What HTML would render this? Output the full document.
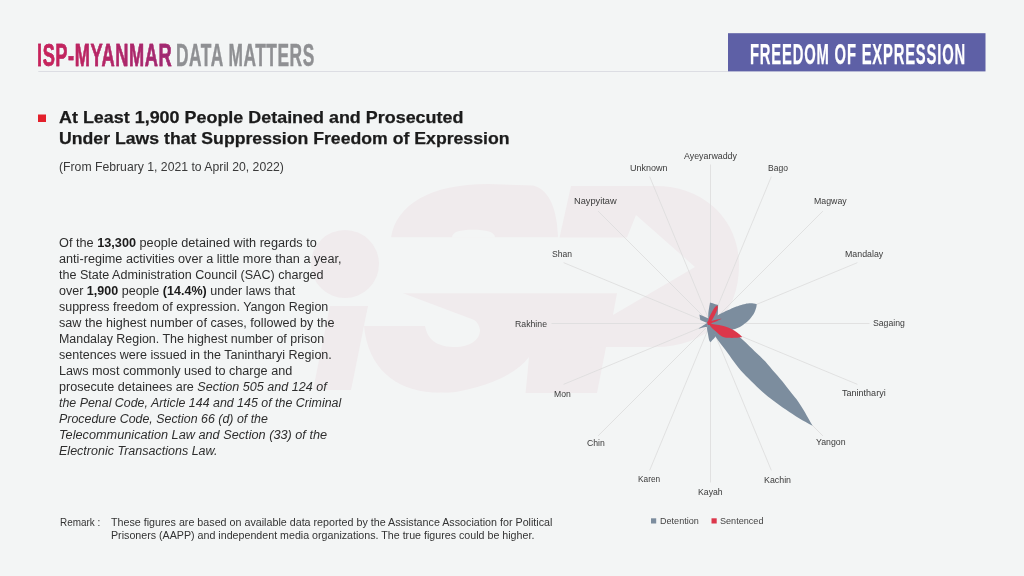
<!DOCTYPE html>
<html><head><meta charset="utf-8"><style>
html,body{margin:0;padding:0;}
body{width:1024px;height:576px;overflow:hidden;background:#f3f5f5;position:relative;font-family:"Liberation Sans",sans-serif;}
.t{position:absolute;white-space:nowrap;line-height:1;transform-origin:0 0;}
.t b{font-weight:bold;color:#1b1b1b;}
svg{position:absolute;left:0;top:0;}
</style></head><body>
<svg width="1024" height="576" viewBox="0 0 1024 576">
<g id="wm" fill="#f0ebed"><circle cx="345" cy="264" r="34"/>
<path d="M330,306 L368,306 L351,390 L313,390Z"/>
<path d="M391,237.5 C396,205 430,184 488,184 L533,185.5 C551,190 557,212 558,237.5Z"/>
<path d="M571,186 L656,186 C702,186 739,218 739,265 C739,315 706,347 655,347 L606,347 L597,393 L525,393Z"/>
<path d="M402.5,293 L617,293 L606,347 L545,350 L525.5,393 L433,392.5 C395,390 368,368 364,326 L425,326 C428,342 440,347 455,347 C470,347 480,340 480,330 C479,324 476,321 473,319.6Z"/>
<g fill="#f3f5f5"><path d="M452,237.5 C452,232 460,229.8 473,229.8 C486,229.8 495,232 495,237.5Z"/>
<path d="M388,237.5 L627,237.5 L636,215 L695,267 L613,315 L617,293.2 L388,293.2Z"/>
<path d="M440,394 C470,391 512,380 529,357 L525.5,394Z"/></g></g>
<line x1="38.3" y1="71.5" x2="728" y2="71.5" stroke="#dcdde3" stroke-width="1"/>
<rect x="728" y="33.2" width="257.5" height="38.2" fill="#5e60a6"/>
<rect x="38" y="114.5" width="8" height="7.5" fill="#e3202b"/>
<g stroke="#dcdcdc" stroke-width="0.8"><line x1="710.50" y1="323.50" x2="710.50" y2="164.50"/><line x1="710.50" y1="323.50" x2="771.35" y2="176.60"/><line x1="710.50" y1="323.50" x2="822.93" y2="211.07"/><line x1="710.50" y1="323.50" x2="857.40" y2="262.65"/><line x1="710.50" y1="323.50" x2="869.50" y2="323.50"/><line x1="710.50" y1="323.50" x2="857.40" y2="384.35"/><line x1="710.50" y1="323.50" x2="822.93" y2="435.93"/><line x1="710.50" y1="323.50" x2="771.35" y2="470.40"/><line x1="710.50" y1="323.50" x2="710.50" y2="482.50"/><line x1="710.50" y1="323.50" x2="649.65" y2="470.40"/><line x1="710.50" y1="323.50" x2="598.07" y2="435.93"/><line x1="710.50" y1="323.50" x2="563.60" y2="384.35"/><line x1="710.50" y1="323.50" x2="551.50" y2="323.50"/><line x1="710.50" y1="323.50" x2="563.60" y2="262.65"/><line x1="710.50" y1="323.50" x2="598.07" y2="211.07"/><line x1="710.50" y1="323.50" x2="649.65" y2="176.60"/></g>
<g fill="#7c8d9e"><path d="M708.60,323.00 L713.67,323.20 L718.05,324.11 L721.98,325.46 L725.59,327.14 L728.98,329.05 L732.21,331.11 L735.24,333.38 L738.17,335.75 L741.03,338.19 L743.79,340.74 L746.50,343.33 L749.20,345.93 L751.90,348.54 L754.60,351.14 L757.31,353.72 L760.02,356.32 L762.72,358.92 L765.35,361.59 L767.83,364.42 L770.24,367.31 L772.67,370.19 L775.15,373.01 L777.63,375.84 L780.09,378.68 L782.50,381.58 L784.83,384.56 L787.14,387.56 L789.47,390.53 L791.84,393.46 L794.22,396.39 L796.55,399.37 L798.76,402.46 L800.88,405.65 L802.94,408.90 L804.92,412.24 L806.81,415.66 L808.71,419.07 L810.65,422.44 L812.61,425.79 L809.12,423.98 L805.71,422.11 L802.35,420.17 L799.04,418.18 L795.77,416.16 L792.53,414.10 L789.33,412.01 L786.17,409.87 L783.04,407.70 L779.94,405.50 L776.88,403.27 L773.85,401.00 L770.86,398.69 L767.87,396.38 L764.91,394.04 L762.04,391.61 L759.31,389.04 L756.62,386.43 L753.93,383.81 L751.25,381.19 L748.59,378.55 L745.96,375.88 L743.36,373.17 L740.78,370.45 L738.31,367.62 L736.01,364.61 L733.78,361.53 L731.54,358.47 L729.34,355.35 L727.16,352.23 L724.92,349.16 L722.59,346.18 L720.25,343.22 L717.97,340.19 L715.79,337.06 L713.73,333.81 L711.79,330.44 L710.09,326.83Z"/><path d="M708.60,323.00 L709.53,321.73 L710.49,320.53 L711.49,319.44 L712.54,318.48 L713.65,317.68 L714.79,316.95 L715.94,316.27 L717.11,315.62 L718.29,314.99 L719.46,314.35 L720.64,313.72 L721.82,313.10 L723.00,312.48 L724.19,311.89 L725.39,311.30 L726.59,310.74 L727.80,310.21 L729.02,309.67 L730.23,309.14 L731.45,308.62 L732.67,308.10 L733.89,307.59 L735.12,307.10 L736.35,306.61 L737.59,306.14 L738.85,305.71 L740.11,305.31 L741.38,304.93 L742.67,304.57 L743.95,304.23 L745.25,303.90 L746.55,303.59 L747.89,303.38 L749.26,303.27 L750.67,303.24 L752.11,303.28 L753.59,303.43 L755.15,303.79 L756.76,304.30 L756.37,306.96 L755.76,309.07 L755.07,310.96 L754.32,312.70 L753.49,314.22 L752.59,315.56 L751.66,316.84 L750.71,318.06 L749.73,319.20 L748.72,320.26 L747.68,321.24 L746.60,322.13 L745.52,323.00 L744.43,323.86 L743.33,324.69 L742.22,325.49 L741.08,326.22 L739.92,326.88 L738.72,327.45 L737.48,327.93 L736.25,328.41 L735.01,328.89 L733.77,329.36 L732.54,329.84 L731.24,330.15 L729.84,330.22 L728.39,330.12 L726.88,329.90 L725.36,329.64 L723.85,329.40 L722.32,329.11 L720.74,328.71 L719.13,328.21 L717.48,327.62 L715.81,326.96 L714.09,326.19 L712.31,325.25 L710.47,324.18Z"/><path d="M708.60,323.00 C708.55,321.53 708.07,317.60 708.30,314.20 C708.53,310.80 709.72,304.53 710.00,302.60 C711.35,303.02 716.75,304.68 718.10,305.10 C718.03,306.92 718.05,313.18 717.70,316.00 C717.35,318.82 717.52,320.83 716.00,322.00 C714.48,323.17 709.83,322.83 708.60,323.00 Z"/><path d="M708.6,318.4 L699.4,314.5 L700.3,319.9 L706,322.6 L708.6,323.2Z"/><path d="M706.20,323.60 C705.50,324.05 703.28,325.47 702.00,326.30 C700.72,327.13 699.08,328.22 698.50,328.60 C699.25,328.40 701.55,327.67 703.00,327.40 C704.45,327.13 706.50,327.07 707.20,327.00 C707.43,326.33 708.77,323.57 708.60,323.00 C708.43,322.43 706.60,323.50 706.20,323.60 Z"/><path d="M710.00,322.00 C709.52,322.82 707.43,324.90 707.10,326.90 C706.77,328.90 707.65,331.77 708.00,334.00 C708.35,336.23 708.80,338.93 709.20,340.30 C709.60,341.67 710.20,341.88 710.40,342.20 C711.27,341.28 714.73,337.62 715.60,336.70 C715.17,335.58 713.93,332.45 713.00,330.00 C712.07,327.55 710.50,323.33 710.00,322.00 Z"/></g>
<g fill="#dc374b"><path d="M708.60,323.00 C709.20,323.15 710.47,323.57 712.20,323.90 C713.93,324.23 716.35,324.42 719.00,325.00 C721.65,325.58 725.57,326.50 728.10,327.40 C730.63,328.30 732.38,329.28 734.20,330.40 C736.02,331.52 737.67,332.98 739.00,334.10 C740.33,335.22 741.67,336.60 742.20,337.10 C741.37,337.22 739.55,337.68 737.20,337.80 C734.85,337.92 730.63,338.02 728.10,337.80 C725.57,337.58 723.93,337.47 722.00,336.50 C720.07,335.53 718.33,333.58 716.50,332.00 C714.67,330.42 712.32,328.50 711.00,327.00 C709.68,325.50 709.00,323.67 708.60,323.00 Z"/><path d="M708.40,323.20 L708.31,322.58 L708.23,321.96 L708.18,321.36 L708.18,320.78 L708.23,320.24 L708.37,319.73 L708.53,319.24 L708.71,318.75 L708.89,318.27 L709.08,317.79 L709.27,317.31 L709.47,316.84 L709.68,316.37 L709.90,315.91 L710.12,315.44 L710.35,314.99 L710.59,314.53 L710.82,314.08 L711.06,313.62 L711.30,313.17 L711.54,312.72 L711.78,312.26 L712.02,311.81 L712.27,311.36 L712.51,310.91 L712.76,310.46 L713.00,310.01 L713.26,309.56 L713.53,309.13 L713.81,308.70 L714.12,308.28 L714.44,307.87 L714.77,307.46 L715.12,307.06 L715.48,306.67 L715.90,306.31 L716.41,305.99 L716.97,305.71 L717.50,305.40 L717.59,306.02 L717.73,306.67 L717.79,307.28 L717.74,307.82 L717.62,308.34 L717.48,308.85 L717.34,309.35 L717.18,309.84 L717.00,310.33 L716.81,310.81 L716.61,311.28 L716.40,311.74 L716.18,312.21 L715.96,312.67 L715.73,313.13 L715.51,313.59 L715.29,314.06 L715.06,314.52 L714.83,314.98 L714.61,315.43 L714.38,315.89 L714.15,316.35 L713.91,316.81 L713.68,317.26 L713.44,317.72 L713.19,318.17 L712.94,318.61 L712.69,319.06 L712.42,319.50 L712.16,319.94 L711.88,320.37 L711.60,320.81 L711.32,321.24 L711.00,321.65 L710.58,322.01 L710.09,322.34 L709.55,322.64 L708.98,322.92Z"/><path d="M708.50,321.50 C709.42,321.28 711.70,320.72 714.00,320.20 C716.30,319.68 720.92,318.70 722.30,318.40 C720.92,319.05 716.22,321.43 714.00,322.30 C711.78,323.17 709.83,323.38 709.00,323.60 C708.92,323.25 708.58,321.85 708.50,321.50 Z"/><path d="M707.00,321.80 C707.50,321.67 709.25,320.55 710.00,321.00 C710.75,321.45 711.83,323.83 711.50,324.50 C711.17,325.17 708.58,324.92 708.00,325.00 C707.83,324.47 707.17,322.33 707.00,321.80 Z"/></g>
<rect x="651" y="518.3" width="5.2" height="5.2" fill="#7c8d9e"/>
<rect x="711.5" y="518.3" width="5.2" height="5.2" fill="#dc374b"/>
</svg>
<div class="t" id="h1" style="left:36.70px;top:39.94px;font-size:31.50px;font-weight:bold;color:url;background:linear-gradient(90deg,#cc2358,#9c2a74);-webkit-background-clip:text;background-clip:text;color:transparent;-webkit-text-stroke:0.5px #b5266a;letter-spacing:1px;transform:scaleX(0.5782);">ISP-MYANMAR</div>
<div class="t" id="h2" style="left:176.00px;top:40.04px;font-size:31.50px;font-weight:bold;color:#8f9093;-webkit-text-stroke:0.5px #8f9093;letter-spacing:1px;transform:scaleX(0.5500);">DATA MATTERS</div>
<div class="t" id="h3" style="left:749.60px;top:40.45px;font-size:29.00px;font-weight:bold;color:#ffffff;-webkit-text-stroke:0.25px #ffffff;letter-spacing:1.6px;transform:scaleX(0.5099);">FREEDOM OF EXPRESSION</div>
<div class="t" id="t1" style="left:59.30px;top:109.03px;font-size:16.50px;font-weight:bold;color:#1b1b1b;-webkit-text-stroke:0.25px #1b1b1b;transform:scaleX(1.0863);">At Least 1,900 People Detained and Prosecuted</div>
<div class="t" id="t2" style="left:59.30px;top:130.03px;font-size:16.50px;font-weight:bold;color:#1b1b1b;-webkit-text-stroke:0.25px #1b1b1b;transform:scaleX(1.0705);">Under Laws that Suppression Freedom of Expression</div>
<div class="t" id="d1" style="left:59.30px;top:160.78px;font-size:12.90px;font-weight:normal;color:#3a3a3a;transform:scaleX(0.9481);">(From February 1, 2021 to April 20, 2022)</div>
<div class="t" id="b0" style="left:59.20px;top:236.59px;font-size:12.30px;font-weight:normal;color:#2e2e2e;transform:scaleX(1.0332);">Of the <b>13,300</b> people detained with regards to</div>
<div class="t" id="b1" style="left:59.20px;top:252.59px;font-size:12.30px;font-weight:normal;color:#2e2e2e;transform:scaleX(1.0307);">anti-regime activities over a little more than a year,</div>
<div class="t" id="b2" style="left:59.20px;top:268.59px;font-size:12.30px;font-weight:normal;color:#2e2e2e;transform:scaleX(1.0214);">the State Administration Council (SAC) charged</div>
<div class="t" id="b3" style="left:59.20px;top:284.59px;font-size:12.30px;font-weight:normal;color:#2e2e2e;transform:scaleX(1.0190);">over <b>1,900</b> people <b>(14.4%)</b> under laws that</div>
<div class="t" id="b4" style="left:59.20px;top:300.59px;font-size:12.30px;font-weight:normal;color:#2e2e2e;transform:scaleX(1.0143);">suppress freedom of expression. Yangon Region</div>
<div class="t" id="b5" style="left:59.20px;top:316.59px;font-size:12.30px;font-weight:normal;color:#2e2e2e;transform:scaleX(1.0253);">saw the highest number of cases, followed by the</div>
<div class="t" id="b6" style="left:59.20px;top:332.59px;font-size:12.30px;font-weight:normal;color:#2e2e2e;transform:scaleX(1.0107);">Mandalay Region. The highest number of prison</div>
<div class="t" id="b7" style="left:59.20px;top:348.59px;font-size:12.30px;font-weight:normal;color:#2e2e2e;transform:scaleX(1.0217);">sentences were issued in the Tanintharyi Region.</div>
<div class="t" id="b8" style="left:59.20px;top:364.59px;font-size:12.30px;font-weight:normal;color:#2e2e2e;transform:scaleX(1.0278);">Laws most commonly used to charge and</div>
<div class="t" id="b9" style="left:59.20px;top:380.59px;font-size:12.30px;font-weight:normal;color:#2e2e2e;transform:scaleX(1.0221);">prosecute detainees are <i>Section 505 and 124 of</i></div>
<div class="t" id="b10" style="left:59.20px;top:396.59px;font-size:12.30px;font-weight:normal;color:#2e2e2e;transform:scaleX(1.0086);"><i>the Penal Code, Article 144 and 145 of the Criminal</i></div>
<div class="t" id="b11" style="left:59.20px;top:412.59px;font-size:12.30px;font-weight:normal;color:#2e2e2e;transform:scaleX(1.0087);"><i>Procedure Code, Section 66 (d) of the</i></div>
<div class="t" id="b12" style="left:59.20px;top:428.59px;font-size:12.30px;font-weight:normal;color:#2e2e2e;transform:scaleX(1.0340);"><i>Telecommunication Law and Section (33) of the</i></div>
<div class="t" id="b13" style="left:59.20px;top:444.59px;font-size:12.30px;font-weight:normal;color:#2e2e2e;transform:scaleX(1.0179);"><i>Electronic Transactions Law.</i></div>
<div class="t" id="r0" style="left:59.80px;top:516.81px;font-size:10.50px;font-weight:normal;color:#333;transform:scaleX(0.9442);">Remark :</div>
<div class="t" id="r1" style="left:111.00px;top:516.81px;font-size:10.50px;font-weight:normal;color:#333;transform:scaleX(1.0206);">These figures are based on available data reported by the Assistance Association for Political</div>
<div class="t" id="r2" style="left:111.00px;top:529.61px;font-size:10.50px;font-weight:normal;color:#333;transform:scaleX(1.0163);">Prisoners (AAPP) and independent media organizations. The true figures could be higher.</div>
<div class="t" id="l0" style="left:683.60px;top:152.33px;font-size:9.30px;font-weight:normal;color:#3a3a3a;transform:scaleX(0.9518);">Ayeyarwaddy</div>
<div class="t" id="l1" style="left:767.60px;top:163.63px;font-size:9.30px;font-weight:normal;color:#3a3a3a;transform:scaleX(0.9182);">Bago</div>
<div class="t" id="l2" style="left:813.90px;top:196.63px;font-size:9.30px;font-weight:normal;color:#3a3a3a;transform:scaleX(0.9429);">Magway</div>
<div class="t" id="l3" style="left:845.40px;top:250.23px;font-size:9.30px;font-weight:normal;color:#3a3a3a;transform:scaleX(0.9475);">Mandalay</div>
<div class="t" id="l4" style="left:873.00px;top:319.43px;font-size:9.30px;font-weight:normal;color:#3a3a3a;transform:scaleX(0.9324);">Sagaing</div>
<div class="t" id="l5" style="left:842.30px;top:389.03px;font-size:9.30px;font-weight:normal;color:#3a3a3a;transform:scaleX(0.9711);">Tanintharyi</div>
<div class="t" id="l6" style="left:815.80px;top:438.08px;font-size:9.30px;font-weight:normal;color:#3a3a3a;transform:scaleX(0.9419);">Yangon</div>
<div class="t" id="l7" style="left:764.20px;top:475.53px;font-size:9.30px;font-weight:normal;color:#3a3a3a;transform:scaleX(0.9500);">Kachin</div>
<div class="t" id="l8" style="left:698.00px;top:487.83px;font-size:9.30px;font-weight:normal;color:#3a3a3a;transform:scaleX(0.9346);">Kayah</div>
<div class="t" id="l9" style="left:637.90px;top:475.33px;font-size:9.30px;font-weight:normal;color:#3a3a3a;transform:scaleX(0.8920);">Karen</div>
<div class="t" id="l10" style="left:586.90px;top:438.83px;font-size:9.30px;font-weight:normal;color:#3a3a3a;transform:scaleX(0.9316);">Chin</div>
<div class="t" id="l11" style="left:553.50px;top:389.53px;font-size:9.30px;font-weight:normal;color:#3a3a3a;transform:scaleX(0.9278);">Mon</div>
<div class="t" id="l12" style="left:515.30px;top:319.53px;font-size:9.30px;font-weight:normal;color:#3a3a3a;transform:scaleX(0.9382);">Rakhine</div>
<div class="t" id="l13" style="left:552.00px;top:250.03px;font-size:9.30px;font-weight:normal;color:#3a3a3a;transform:scaleX(0.9182);">Shan</div>
<div class="t" id="l14" style="left:574.40px;top:197.03px;font-size:9.30px;font-weight:normal;color:#3a3a3a;transform:scaleX(0.9953);">Naypyitaw</div>
<div class="t" id="l15" style="left:629.70px;top:163.63px;font-size:9.30px;font-weight:normal;color:#3a3a3a;transform:scaleX(0.9692);">Unknown</div>
<div class="t" id="g0" style="left:659.80px;top:516.53px;font-size:9.30px;font-weight:normal;color:#444;transform:scaleX(0.9750);">Detention</div>
<div class="t" id="g1" style="left:720.00px;top:516.53px;font-size:9.30px;font-weight:normal;color:#444;transform:scaleX(0.9773);">Sentenced</div>
</body></html>
